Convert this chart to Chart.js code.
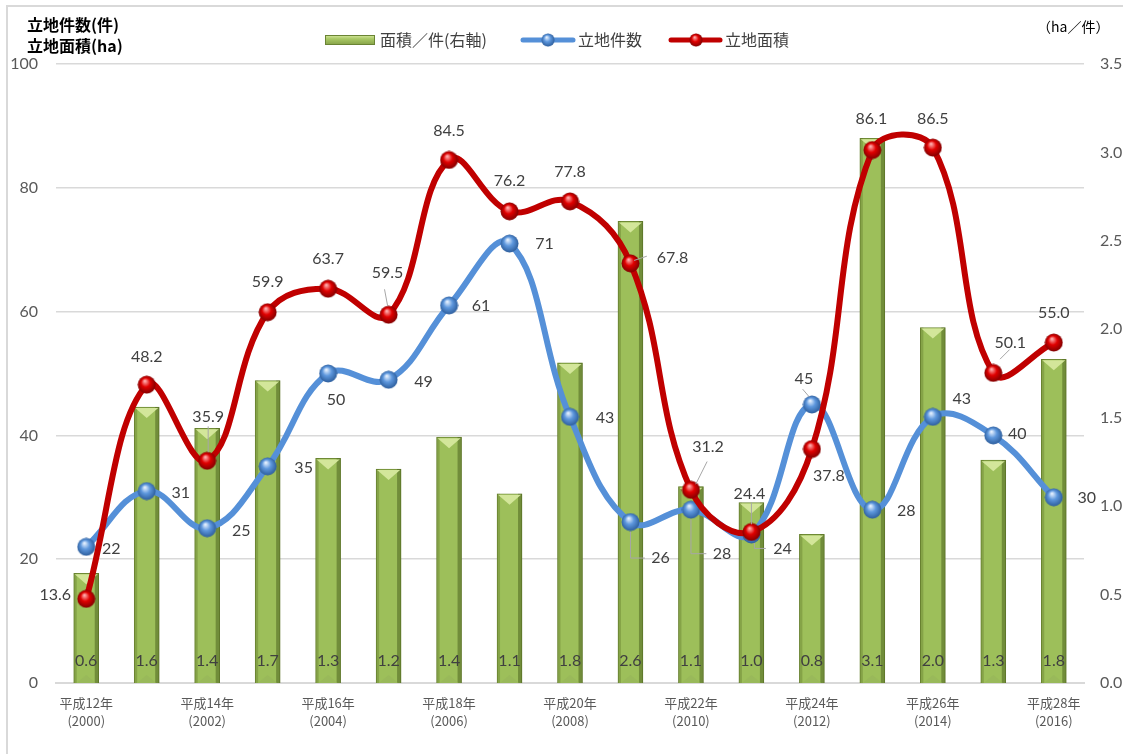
<!DOCTYPE html>
<html lang="ja">
<head>
<meta charset="utf-8">
<script src="https://cdn.jsdelivr.net/npm/chart.js@4.4.1/dist/chart.umd.min.js"></script>
<style>
html, body { margin: 0; padding: 0; background: #fff; overflow: hidden; }
#wrap { position: relative; width: 1123px; height: 754px; }
#frame { position: absolute; left: 6px; top: 5px; width: 1130px; height: 760px; border: 2px solid #d9d9d9; box-sizing: border-box; pointer-events: none; }
</style>
</head>
<body>
<div id="wrap">
  <canvas id="chart" width="1123" height="754"></canvas>
  <div id="frame"></div>
</div>
<script>
// categories
const eraLabels = ['平成12年','平成13年','平成14年','平成15年','平成16年','平成17年','平成18年','平成19年','平成20年',
  '平成21年','平成22年','平成23年','平成24年','平成25年','平成26年','平成27年','平成28年'];
const yearLabels = ['(2000)','(2001)','(2002)','(2003)','(2004)','(2005)','(2006)','(2007)','(2008)',
  '(2009)','(2010)','(2011)','(2012)','(2013)','(2014)','(2015)','(2016)'];

// series
const countValues = [22, 31, 25, 35, 50, 49, 61, 71, 43, 26, 28, 24, 45, 28, 43, 40, 30];
const areaValues = [13.6, 48.2, 35.9, 59.9, 63.7, 59.5, 84.5, 76.2, 77.8, 67.8, 31.2, 24.4, 37.8, 86.1, 86.5, 50.1, 55.0];
const perCaseValues = [0.62, 1.56, 1.44, 1.71, 1.27, 1.21, 1.39, 1.07, 1.81, 2.61, 1.11, 1.02, 0.84, 3.08, 2.01, 1.26, 1.83];

// axis ticks
const leftTicks = [0, 20, 40, 60, 80, 100];
const rightTicks = [0, 0.5, 1.0, 1.5, 2.0, 2.5, 3.0, 3.5];

const seriesNames = ['面積／件(右軸)', '立地件数', '立地面積'];

// label placement (px offsets from the point)
const countLabelPos = [[25,2],[34,2],[34,3],[36,1],[8,26],[35,2],[32,0],[35,0],[35,1],[30,36],[31,44],[31,14],[-8,-26],[34,1],[29,-18],[24,-2],[33,1]];
const areaLabelPos = [[-31,-4],[0,-28],[1,-44],[0,-30],[0,-30],[-1,-42],[0,-29],[0,-30],[0,-30],[42,-5],[17,-43],[-2,-38],[17,27],[-1,-31],[0,-29],[17,-30],[0,-30]];
const countLeaders = {9: [[0,10],[0,36],[14,36]], 10: [[0,10],[0,44],[15,44]], 11: [[3,9],[3,14],[14,14]], 12: [[-3,-8],[-9,-15]]};
const areaLeaders = {2: [[1,-9],[1,-34]], 5: [[-4,-25],[-1,-9]], 9: [[4,-3],[16,-7]], 10: [[5,-6],[16,-28]], 11: [[0,-8],[0,-29]], 15: [[7,-14],[16,-23]]};

const BLUE = '#5590d8';
const RED = '#c00000';
const LABEL = '#404040';
const TICK = '#595959';
const JP = '"Noto Sans CJK JP", "Noto Sans", sans-serif';
const NUM = 'Lato, "Noto Sans", sans-serif';

function sphere(light, mid, dark, size) {
  const c = document.createElement('canvas');
  c.width = c.height = size;
  const g = c.getContext('2d');
  const r = size / 2;
  const grad = g.createRadialGradient(r * 0.8, r * 0.6, r * 0.05, r, r, r);
  grad.addColorStop(0, light);
  grad.addColorStop(0.45, mid);
  grad.addColorStop(1, dark);
  g.fillStyle = grad;
  g.beginPath();
  g.arc(r, r, r - 0.5, 0, Math.PI * 2);
  g.fill();
  return c;
}
const blueBall = sphere('#e6f1ff', '#5d97dd', '#2a5a98', 19);
const redBall = sphere('#ffb0b0', '#e00000', '#7a0000', 19);

function drawLeader(ctx, p, path) {
  ctx.save();
  ctx.strokeStyle = '#a6a6a6';
  ctx.lineWidth = 1;
  ctx.beginPath();
  path.forEach((q, i) => {
    const x = p.x + q[0], y = p.y + q[1];
    if (i === 0) ctx.moveTo(x, y); else ctx.lineTo(x, y);
  });
  ctx.stroke();
  ctx.restore();
}

const decor = {
  id: 'decor',
  afterDatasetDraw(chart, args) {
    if (args.index !== 0) return;
    const ctx = chart.ctx;
    ctx.save();
    args.meta.data.forEach(bar => {
      const w = bar.width, l = bar.x - w / 2, t = bar.y, h = bar.base - bar.y;
      ctx.fillStyle = 'rgba(80,100,30,0.3)';
      ctx.fillRect(l, t, 3, h);
      ctx.fillStyle = 'rgba(60,80,20,0.45)';
      ctx.fillRect(l + w - 4, t, 4, h);
      ctx.fillStyle = '#d3e69a';
      ctx.beginPath();
      ctx.moveTo(l + 1, t + 1);
      ctx.lineTo(l + w - 1, t + 1);
      ctx.lineTo(bar.x, t + 11);
      ctx.closePath();
      ctx.fill();
      ctx.fillStyle = 'rgba(150,180,90,0.5)';
      ctx.beginPath();
      ctx.moveTo(l + 3, bar.base);
      ctx.lineTo(l + w - 3, bar.base);
      ctx.lineTo(bar.x, bar.base - 8);
      ctx.closePath();
      ctx.fill();
    });
    ctx.restore();
  },
  afterDraw(chart) {
    const ctx = chart.ctx;
    ctx.save();

    // axis titles
    ctx.fillStyle = '#000';
    ctx.textBaseline = 'middle';
    ctx.textAlign = 'left';
    ctx.font = 'bold 16px ' + JP;
    ctx.fillText('立地件数(件)', 27, 25);
    ctx.fillText('立地面積(ha)', 27, 46);
    ctx.font = '14px ' + JP;
    ctx.fillText('（ha／件）', 1037, 27);

    // legend
    const ly = 40;
    const lg = ctx.createLinearGradient(0, 35, 0, 46);
    lg.addColorStop(0, '#d7e8a0');
    lg.addColorStop(0.35, '#a9c865');
    lg.addColorStop(1, '#7e9a42');
    ctx.fillStyle = lg;
    ctx.fillRect(325, 35, 50, 10);
    ctx.strokeStyle = '#6a8434';
    ctx.lineWidth = 1;
    ctx.strokeRect(325.5, 35.5, 49, 9);
    ctx.font = '16px ' + JP;
    ctx.fillStyle = LABEL;
    ctx.fillText(seriesNames[0], 380, ly);

    ctx.lineCap = 'round';
    ctx.lineWidth = 5;
    ctx.strokeStyle = BLUE;
    ctx.beginPath(); ctx.moveTo(523, ly); ctx.lineTo(573, ly); ctx.stroke();
    ctx.drawImage(blueBall, 548 - 7, ly - 7, 14, 14);
    ctx.fillText(seriesNames[1], 578, ly);

    ctx.strokeStyle = RED;
    ctx.beginPath(); ctx.moveTo(671, ly); ctx.lineTo(720, ly); ctx.stroke();
    ctx.drawImage(redBall, 696 - 7, ly - 7, 14, 14);
    ctx.fillText(seriesNames[2], 725, ly);

    // bar value labels
    ctx.font = '16px ' + NUM;
    ctx.textAlign = 'center';
    ctx.fillStyle = LABEL;
    const barMeta = chart.getDatasetMeta(0);
    barMeta.data.forEach((bar, i) => {
      ctx.fillText(perCaseValues[i].toFixed(1), bar.x, 661);
    });

    // count labels
    const countMeta = chart.getDatasetMeta(1);
    countMeta.data.forEach((pt, i) => {
      if (countLeaders[i]) drawLeader(ctx, pt, countLeaders[i]);
      ctx.fillText(String(countValues[i]), pt.x + countLabelPos[i][0], pt.y + countLabelPos[i][1]);
    });

    // area labels
    const areaMeta = chart.getDatasetMeta(2);
    areaMeta.data.forEach((pt, i) => {
      if (areaLeaders[i]) drawLeader(ctx, pt, areaLeaders[i]);
      ctx.fillText(areaValues[i].toFixed(1), pt.x + areaLabelPos[i][0], pt.y + areaLabelPos[i][1]);
    });

    ctx.restore();
  }
};

const ctx = document.getElementById('chart').getContext('2d');
new Chart(ctx, {
  data: {
    labels: eraLabels,
    datasets: [
      {
        type: 'bar',
        label: seriesNames[0],
        data: perCaseValues,
        yAxisID: 'y1',
        backgroundColor: '#9dbf5a',
        borderColor: '#6f8a35',
        borderWidth: 1,
        barThickness: 25,
        order: 2
      },
      {
        type: 'line',
        label: seriesNames[1],
        data: countValues,
        yAxisID: 'y',
        borderColor: BLUE,
        borderWidth: 6,
        tension: 0.4,
        pointStyle: blueBall,
        pointRadius: 9,
        order: 1
      },
      {
        type: 'line',
        label: seriesNames[2],
        data: areaValues,
        yAxisID: 'y',
        borderColor: RED,
        borderWidth: 6,
        tension: 0.4,
        pointStyle: redBall,
        pointRadius: 9,
        order: 0
      }
    ]
  },
  options: {
    responsive: false,
    animation: false,
    events: [],
    layout: { padding: { top: 64, left: 0, right: 0, bottom: 0 } },
    plugins: { legend: { display: false }, tooltip: { enabled: false } },
    scales: {
      x: {
        offset: true,
        grid: { display: false, drawTicks: false },
        border: { display: true, color: '#d9d9d9', width: 2 },
        ticks: {
          autoSkip: false,
          maxRotation: 0,
          padding: 11,
          color: TICK,
          font: { family: JP, size: 13, lineHeight: 1.4 },
          callback: (v, i) => (i % 2 === 0 ? [eraLabels[i], yearLabels[i]] : '')
        },
        afterFit: s => { s.height = 71; }
      },
      y: {
        position: 'left',
        min: 0,
        max: 100,
        afterBuildTicks: s => { s.ticks = leftTicks.map(v => ({ value: v })); },
        grid: { color: '#d9d9d9', lineWidth: 1.5, drawTicks: false },
        border: { display: false },
        ticks: { padding: 18, color: TICK, font: { family: NUM, size: 16 } },
        afterFit: s => { s.width = 56; }
      },
      y1: {
        position: 'right',
        min: 0,
        max: 3.5,
        afterBuildTicks: s => { s.ticks = rightTicks.map(v => ({ value: v })); },
        grid: { display: false, drawTicks: false },
        border: { display: false },
        ticks: { padding: 16, color: TICK, font: { family: NUM, size: 16 }, callback: v => Number(v).toFixed(1) },
        afterFit: s => { s.width = 39; }
      }
    }
  },
  plugins: [decor]
});
</script>
</body>
</html>
